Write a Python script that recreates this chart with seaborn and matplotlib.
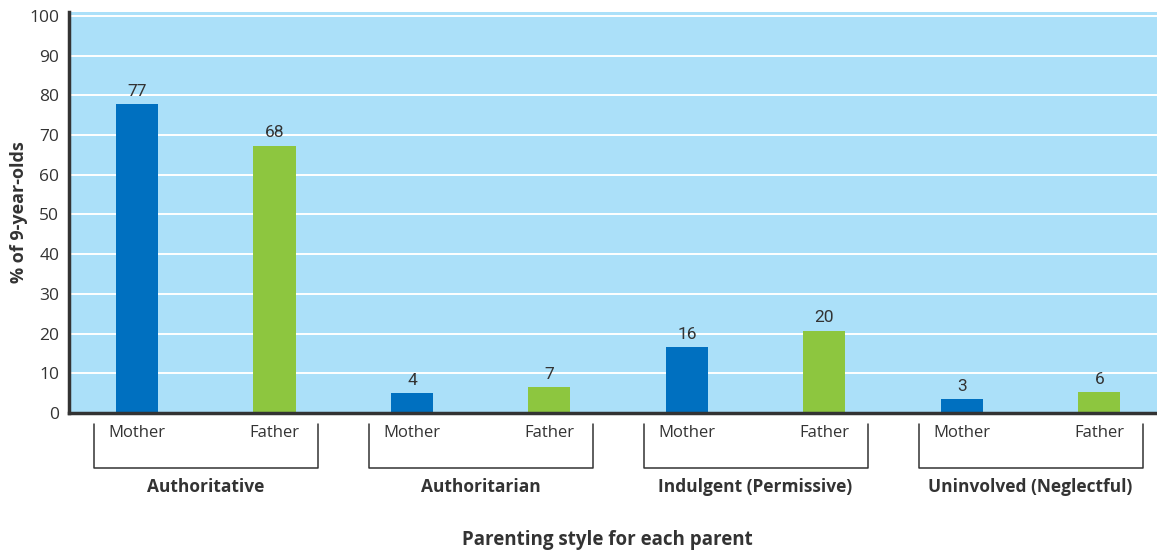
import pandas as pd
import matplotlib
matplotlib.use('Agg')
import matplotlib.pyplot as plt
import matplotlib.transforms as mtransforms
import seaborn as sns

# data
styles = ['Authoritative', 'Authoritarian', 'Indulgent (Permissive)', 'Uninvolved (Neglectful)']
parents = ['Mother', 'Father']
# drawn heights (slightly different from the printed labels in the original)
mother_heights = [77.8, 5.0, 16.6, 3.5]
father_heights = [67.3, 6.5, 20.7, 5.2]
mother_labels = ['77', '4', '16', '3']
father_labels = ['68', '7', '20', '6']

colors = {'Mother': '#0070c0', 'Father': '#8dc63f'}
bg = '#abe0f9'
txt = '#333333'

rows = []
for s, mh, fh, ml, fl in zip(styles, mother_heights, father_heights, mother_labels, father_labels):
    rows.append({'bar': s + ' Mother', 'style': s, 'parent': 'Mother', 'height': mh, 'label': ml})
    rows.append({'bar': s + ' Father', 'style': s, 'parent': 'Father', 'height': fh, 'label': fl})
df = pd.DataFrame(rows)

sns.set_theme(style='white')
plt.rcParams['font.family'] = ['Open Sans', 'DejaVu Sans']

fig = plt.figure(figsize=(11.57, 5.54), dpi=100)
ax = fig.add_axes([0.0596, 0.2545, 0.9404, 0.7238])
ax.set_facecolor(bg)

sns.barplot(data=df, x='bar', y='height', hue='parent', palette=colors,
            dodge=False, width=0.306, saturation=1, linewidth=0,
            ax=ax, legend=False, zorder=3)

ax.set_ylim(0, 101)
ax.set_xlim(-0.495, 7.42)
ax.set_yticks(range(0, 101, 10))
ax.yaxis.grid(True, color='white', linewidth=1.4, zorder=1)
ax.set_axisbelow(True)

for sp in ['top', 'right']:
    ax.spines[sp].set_visible(False)
for sp in ['left', 'bottom']:
    ax.spines[sp].set_color(txt)
    ax.spines[sp].set_linewidth(2.5)
    ax.spines[sp].set_zorder(5)

ax.tick_params(axis='y', length=0, pad=7, labelsize=12.5, labelcolor=txt)
ax.set_xticks(range(len(df)))
ax.set_xticklabels([])
ax.tick_params(axis='x', length=0)
ax.set_xlabel('')

# value labels on top of the bars
for i, r in df.iterrows():
    ax.annotate(r['label'], (i, r['height']), xytext=(0, 4), textcoords='offset points',
                ha='center', va='bottom', fontsize=12.5, color=txt,
                family=['Liberation Sans Narrow', 'Roboto', 'DejaVu Sans'])

# brackets under each pair of bars
trans = mtransforms.blended_transform_factory(ax.transData, ax.transAxes)
for g, s in enumerate(styles):
    x0 = 2 * g - 0.313
    x1 = 2 * g + 1 + 0.317
    ax.plot([x0, x0, x1, x1], [-0.027, -0.137, -0.137, -0.027], transform=trans,
            color=txt, linewidth=1.1, clip_on=False)
    for k, p in enumerate(parents):
        ax.text(2 * g + k, -0.05, p, transform=trans, ha='center', va='center',
                fontsize=12, color=txt)
    ax.text(2 * g + 0.5, -0.185, s, transform=trans, ha='center', va='center',
            fontsize=12.5, fontweight='bold', color=txt)

ax.text(0.495, -0.317, 'Parenting style for each parent', transform=ax.transAxes,
        ha='center', va='center', fontsize=13.5, fontweight='bold', color=txt)

ax.set_ylabel('% of 9-year-olds', fontsize=13, fontweight='bold', color=txt)
ax.yaxis.set_label_coords(-0.038, 0.5)

fig.savefig('out.png', dpi=100, facecolor='white')
